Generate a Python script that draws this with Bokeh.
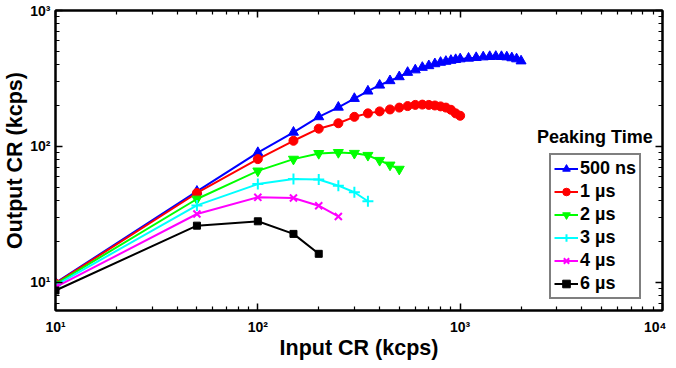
from bokeh.plotting import figure
from bokeh.models import (FixedTicker, CustomJSTickFormatter, LogAxis, Legend, LegendItem, Label)
from bokeh.embed import file_html
from bokeh.resources import INLINE

# ---- data ----
x_500ns = [10, 50, 100, 150, 200, 250, 300, 350, 400, 450, 500, 550, 600, 650, 700, 750, 800, 850, 900, 950,
           1000, 1100, 1200, 1300, 1400, 1500, 1600, 1700, 1800, 1900, 2000]
y_500ns = [9.9, 46.7, 90, 127, 165, 194, 225, 255, 282, 304, 325, 350, 365, 381, 392, 405, 415, 422, 429, 435,
           440, 445, 450, 455, 458, 459, 458, 455, 448, 440, 425]

x_1us = [10, 50, 100, 150, 200, 250, 300, 350, 400, 450, 500, 550, 600, 650, 700, 750, 800, 850, 900, 950, 1000]
y_1us = [9.8, 45.4, 80.6, 110, 135, 148, 165, 175, 181, 187, 193, 198, 202, 203, 202, 200, 197, 193, 186, 175, 168]

x_2us = [10, 50, 100, 150, 200, 250, 300, 350, 400, 450, 500]
y_2us = [9.7, 41, 66, 80.6, 88.8, 90.3, 89, 86, 79, 73, 68]

x_3us = [10, 50, 100, 150, 200, 250, 300, 350]
y_3us = [9.5, 36.8, 52.8, 57.5, 57, 51.4, 46, 39.5]

x_4us = [10, 50, 100, 150, 200, 250]
y_4us = [9.2, 31.8, 42.2, 41.7, 36.6, 30.5]

x_6us = [10, 50, 100, 150, 200]
y_6us = [8.7, 26.1, 28.1, 22.7, 16.2]

series_labels = ["500 ns", "1 \u00b5s", "2 \u00b5s", "3 \u00b5s", "4 \u00b5s", "6 \u00b5s"]
series_colors = ["#0000FF", "#FF0000", "#00FF00", "#00FFFF", "#FF00FF", "#000000"]
series_markers = ["triangle", "circle", "inverted_triangle", "cross", "x", "square"]
series_sizes = [10, 9, 10, 11, 10, 7]
series_x = [x_500ns, x_1us, x_2us, x_3us, x_4us, x_6us]
series_y = [y_500ns, y_1us, y_2us, y_3us, y_4us, y_6us]

x_major = [10, 100, 1000, 10000]
y_major = [10, 100, 1000]
x_minor = [m * d for d in (10, 100, 1000) for m in range(2, 10)]
y_minor = [7, 8, 9] + [m * d for d in (10, 100) for m in range(2, 10)]

FONT = "Liberation Sans"

p = figure(frame_width=607, frame_height=300, x_axis_type="log", y_axis_type="log",
           x_range=(10, 10000), y_range=(6.2, 1000),
           output_backend="svg", toolbar_location=None,
           min_border_left=49, min_border_right=4, min_border_top=10, min_border_bottom=42)
p.grid.visible = False
p.outline_line_color = "black"
p.outline_line_width = 2
p.background_fill_color = "white"
p.border_fill_color = "white"

fmt = CustomJSTickFormatter(code="""
const sup = {'0':'\u2070','1':'\u00b9','2':'\u00b2','3':'\u00b3','4':'\u2074'};
const e = Math.round(Math.log10(tick));
return '10' + sup[String(e)];
""")
blank = CustomJSTickFormatter(code="return '';")

def style_axis(ax, xdir, labeled):
    ax.ticker = FixedTicker(ticks=x_major if xdir else y_major, minor_ticks=x_minor if xdir else y_minor)
    ax.axis_line_width = 2
    ax.axis_line_color = "black"
    ax.major_tick_in = 7
    ax.major_tick_out = 0
    ax.minor_tick_in = 4
    ax.minor_tick_out = 0
    ax.major_tick_line_width = 1.5
    ax.minor_tick_line_width = 1.2
    ax.major_tick_line_color = "black"
    ax.minor_tick_line_color = "black"
    if labeled:
        ax.formatter = fmt
        ax.major_label_text_font = FONT
        ax.major_label_text_font_style = "bold"
        ax.major_label_text_font_size = "14px"
        ax.major_label_text_color = "black"
        ax.major_label_standoff = 5
        ax.axis_label_text_font = FONT
        ax.axis_label_text_font_style = "bold"
        ax.axis_label_text_font_size = "21.5px"
        ax.axis_label_text_color = "black"
    else:
        ax.formatter = blank
        ax.major_label_text_font_size = "1px"
        ax.major_label_standoff = 0
        ax.axis_label_standoff = 0

style_axis(p.xaxis[0], True, True)
style_axis(p.yaxis[0], False, True)
p.xaxis[0].axis_label = "Input CR (kcps)"
p.yaxis[0].axis_label = "Output CR (kcps)"
p.xaxis[0].major_label_standoff = 8
p.xaxis[0].axis_label_standoff = -2
p.yaxis[0].axis_label_standoff = 0

top = LogAxis()
style_axis(top, True, False)
right = LogAxis()
style_axis(right, False, False)
p.add_layout(top, "above")
p.add_layout(right, "right")

items = []
for lab, col, mk, sz, xs, ys in zip(series_labels, series_colors, series_markers, series_sizes, series_x, series_y):
    r1 = p.line(xs, ys, line_color=col, line_width=2)
    r2 = p.scatter(xs, ys, marker=mk, size=sz, fill_color=col, line_color=col,
                   line_width=2 if mk in ("cross", "x") else 1)
    items.append(LegendItem(label=lab, renderers=[r1, r2]))

legend = Legend(items=items, location=(494, 11), orientation="vertical",
                label_text_font=FONT, label_text_font_style="bold", label_text_font_size="18px",
                label_text_color="black", glyph_width=24, glyph_height=19, label_height=19,
                label_standoff=2, spacing=2, padding=3, margin=0,
                border_line_color="black", border_line_width=2, background_fill_alpha=1)
p.add_layout(legend, "center")

title = Label(x=4634, y=116.5, text="Peaking Time", text_font=FONT, text_font_style="bold",
              text_font_size="18px", text_align="center", text_baseline="middle", text_color="black")
p.add_layout(title)

open("out.html", "w").write(file_html(p, INLINE))
